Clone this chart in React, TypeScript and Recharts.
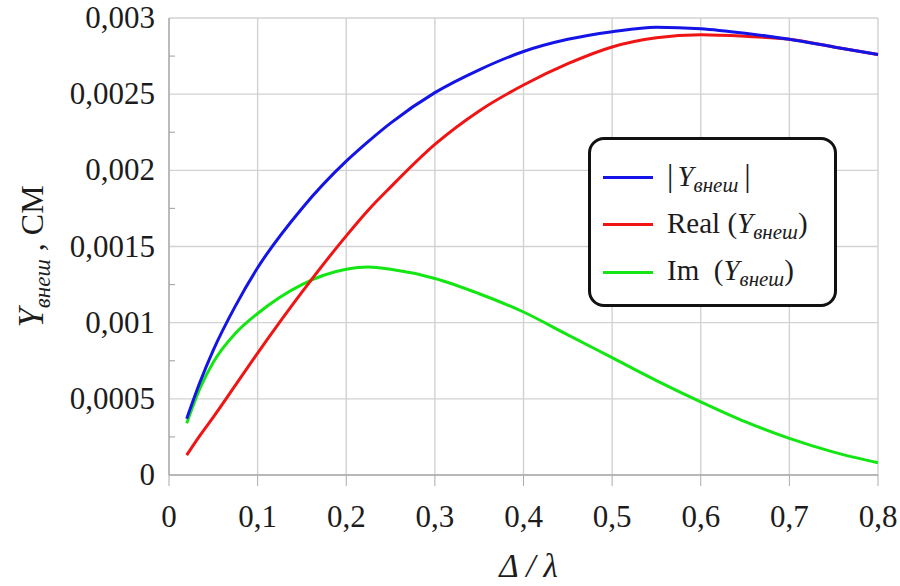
import React from 'react';
import { LineChart, Line, XAxis, YAxis, CartesianGrid, ReferenceLine, Legend, Label } from 'recharts';

const xValues = [0.02, 0.035, 0.05, 0.075, 0.1, 0.15, 0.2, 0.225, 0.25, 0.3, 0.35, 0.4, 0.45, 0.5, 0.55, 0.6, 0.65, 0.7, 0.75, 0.8];
const absY = [0.00037, 0.00061, 0.00082, 0.00111, 0.00136, 0.00175, 0.00206, 0.00219, 0.00231, 0.00251, 0.00266, 0.00278, 0.00286, 0.00291, 0.00294, 0.00293, 0.0029, 0.00286, 0.00281, 0.00276];
const realY = [0.00013, 0.00026, 0.00038, 0.00059, 0.0008, 0.0012, 0.00157, 0.00174, 0.00189, 0.00217, 0.00239, 0.00256, 0.0027, 0.00281, 0.00287, 0.00289, 0.00288, 0.00286, 0.00281, 0.00276];
const imY = [0.00034, 0.00057, 0.00074, 0.00093, 0.00106, 0.00125, 0.00135, 0.001365, 0.00135, 0.00129, 0.00119, 0.00107, 0.00092, 0.00077, 0.00062, 0.00048, 0.00035, 0.00024, 0.00015, 0.00008];

const xTicks = [0, 0.1, 0.2, 0.3, 0.4, 0.5, 0.6, 0.7, 0.8];
const yMajorTicks = [0, 0.0005, 0.001, 0.0015, 0.002, 0.0025, 0.003];
const yAllTicks = [0, 0.00025, 0.0005, 0.00075, 0.001, 0.00125, 0.0015, 0.00175, 0.002, 0.00225, 0.0025, 0.00275, 0.003];
const yMajorLabels = ['0', '0,0005', '0,001', '0,0015', '0,002', '0,0025', '0,003'];
const xTickLabels = ['0', '0,1', '0,2', '0,3', '0,4', '0,5', '0,6', '0,7', '0,8'];

const data = xValues.map((x, i) => ({ x, abs: absY[i], real: realY[i], im: imY[i] }));

const SERIF = '"Liberation Serif", "Times New Roman", serif';
const GRID = '#d2d2d2';
const AXIS = '#ababab';
const TEXT = '#1c1c1c';

const YTick = (props: any) => {
  const { x, y, payload } = props;
  const idx = yMajorTicks.findIndex((t) => Math.abs(t - payload.value) < 1e-9);
  if (idx >= 0) {
    return (
      <text x={x} y={y} dy={10} textAnchor="end" fontFamily={SERIF} fontSize={31} fill={TEXT}>
        {yMajorLabels[idx]}
      </text>
    );
  }
  return <line x1={x + 14} x2={x + 20} y1={y} y2={y} stroke={AXIS} strokeWidth={1.2} />;
};

const XTick = (props: any) => {
  const { x, y, payload } = props;
  const idx = xTicks.findIndex((t) => Math.abs(t - payload.value) < 1e-9);
  return (
    <text x={x} y={y} dy={21} textAnchor="middle" fontFamily={SERIF} fontSize={31} fill={TEXT}>
      {idx >= 0 ? xTickLabels[idx] : ''}
    </text>
  );
};

const renderXLabel = (props: any) => {
  const vb = props.viewBox || { x: 169, y: 475, width: 709, height: 111 };
  const cx = vb.x + vb.width / 2 + 5;
  return (
    <text x={cx} y={vb.y + 102} textAnchor="middle" fontFamily={SERIF} fontSize={33} fontStyle="italic" fill={TEXT}>
      Δ / λ
    </text>
  );
};

const renderYLabel = (props: any) => {
  const vb = props.viewBox || { x: 0, y: 18, width: 169, height: 457 };
  const cx = 43;
  const cy = vb.y + vb.height / 2 + 10;
  return (
    <text
      x={cx}
      y={cy}
      transform={`rotate(-90 ${cx} ${cy})`}
      textAnchor="middle"
      fontFamily={SERIF}
      fontSize={32}
      fill={TEXT}
    >
      <tspan fontStyle="italic" fontSize={35}>Y</tspan>
      <tspan fontStyle="italic" fontSize={23} dy={7}>внеш</tspan>
      <tspan dy={-7}> , СМ</tspan>
    </text>
  );
};

const Sub = ({ children }: any) => (
  <span style={{ fontStyle: 'italic', fontSize: 21, position: 'relative', top: 6 }}>{children}</span>
);

const legendRows = [
  { key: 'abs', color: '#1414e6', label: (
    <span>
      <span style={{ fontSize: 32, marginRight: 4 }}>|</span>
      <span style={{ fontStyle: 'italic' }}>Y</span>
      <Sub>внеш</Sub>
      <span style={{ fontSize: 32, marginLeft: 6 }}>|</span>
    </span>
  ) },
  { key: 'real', color: '#f01414', label: (
    <span>
      Real (<span style={{ fontStyle: 'italic' }}>Y</span>
      <Sub>внеш</Sub>)
    </span>
  ) },
  { key: 'im', color: '#14e614', label: (
    <span>
      Im&nbsp;&nbsp;(<span style={{ fontStyle: 'italic' }}>Y</span>
      <Sub>внеш</Sub>)
    </span>
  ) },
];

const renderLegend = () => (
  <div
    style={{
      position: 'relative',
      width: 249,
      height: 170,
      border: '3px solid #111',
      borderRadius: 16,
      background: '#fff',
      boxSizing: 'border-box',
      fontFamily: SERIF,
      fontSize: 29,
      color: TEXT,
    }}
  >
    {legendRows.map((r, i) => (
      <div key={r.key} style={{ position: 'absolute', left: 0, top: 40 + i * 47.5 - 3, width: '100%', height: 0 }}>
        <div style={{ position: 'absolute', left: 12, top: -1.5, width: 50, height: 3, background: r.color }} />
        <div style={{ position: 'absolute', left: 76, top: -19, whiteSpace: 'nowrap', lineHeight: '34px' }}>{r.label}</div>
      </div>
    ))}
  </div>
);

export default function App() {
  return (
    <div style={{ position: 'absolute', left: 0, top: 0, width: 900, height: 586, background: '#fff' }}>
      <LineChart width={900} height={586} data={data} margin={{ top: 18, right: 22, bottom: 0, left: 0 }}>
        <CartesianGrid horizontal={false} stroke={GRID} strokeWidth={1.4} />
        {yMajorTicks.map((t) => (
          <ReferenceLine key={t} y={t} stroke={GRID} strokeWidth={1.4} />
        ))}
        <XAxis
          type="number"
          dataKey="x"
          domain={[0, 0.8]}
          ticks={xTicks}
          height={111}
          tickSize={11}
          tickMargin={20}
          stroke={AXIS}
          tickLine={{ stroke: AXIS }}
          axisLine={{ stroke: AXIS, strokeWidth: 1.4 }}
          tick={<XTick />}
          interval={0}
        >
          <Label content={renderXLabel} />
        </XAxis>
        <YAxis
          type="number"
          domain={[0, 0.003]}
          ticks={yAllTicks}
          width={169}
          tickSize={0}
          tickMargin={14}
          axisLine={{ stroke: AXIS, strokeWidth: 1.4 }}
          tick={<YTick />}
          interval={0}
        >
          <Label content={renderYLabel} />
        </YAxis>
        <Line type="monotone" dataKey="im" stroke="#14e614" strokeWidth={3} dot={false} isAnimationActive={false} />
        <Line type="monotone" dataKey="real" stroke="#f01414" strokeWidth={3} dot={false} isAnimationActive={false} />
        <Line type="monotone" dataKey="abs" stroke="#1414e6" strokeWidth={3} dot={false} isAnimationActive={false} />
        <Legend
          layout="vertical"
          align="center"
          verticalAlign="middle"
          content={renderLegend}
          wrapperStyle={{ left: 588, top: 137, width: 249, height: 170 }}
        />
      </LineChart>
    </div>
  );
}
